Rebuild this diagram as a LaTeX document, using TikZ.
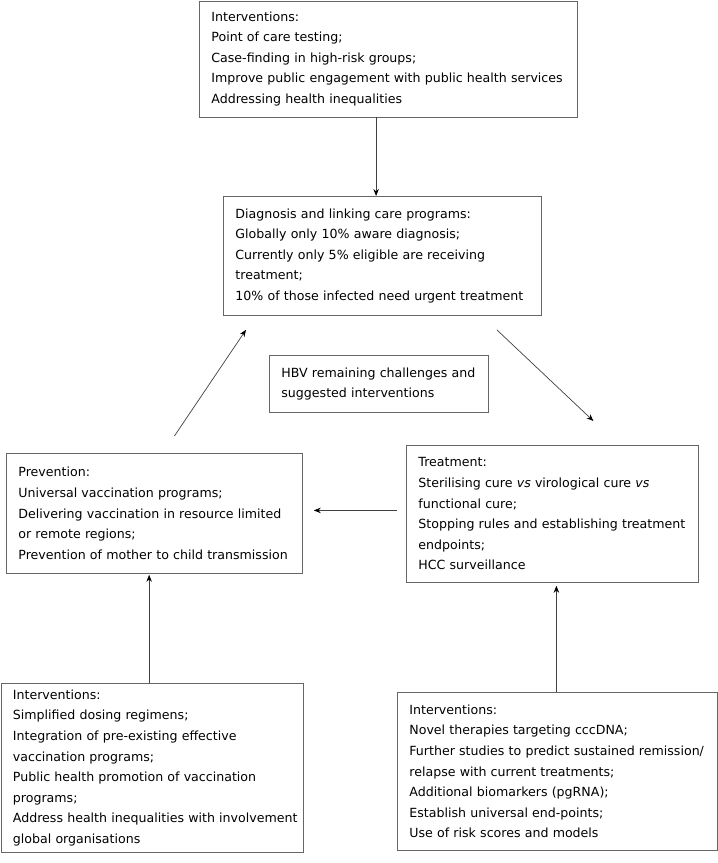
\documentclass[tikz,border=0pt]{standalone}
\usepackage{fontspec}
\setmainfont{DejaVu Sans}
\usetikzlibrary{calc,arrows.meta}
\tikzset{
  box/.style={draw=black!60, line width=0.8pt, anchor=north west, align=left,
    inner xsep=4pt, inner ysep=0pt, execute at begin node={\leftskip=8pt},
    font=\fontsize{12.6}{20.6}\selectfont},
  link/.style={draw=black!75, line width=0.7pt, -{Stealth[length=7pt,width=5.5pt,black]}}
}

\begin{document}
\begin{tikzpicture}[x=1pt,y=-1pt]
		%%%%% START %%%%%
		\useasboundingbox (0,0) rectangle (718,863);
		
		\node[box, text width=370pt, minimum height=116pt] (topiv) at (199,0.5)
		{Interventions:\\Point of care testing;\\Case-finding in high-risk groups;\\Improve public engagement with public health services\\Addressing health inequalities};
		
		\node[box, text width=310pt, minimum height=119pt] (diag) at (223,196)
		{Diagnosis and linking care programs:\\Globally only 10\% aware diagnosis;\\Currently only 5\% eligible are receiving\\treatment;\\10\% of those infected need urgent treatment};
		
		\node[box, text width=211pt, minimum height=57pt] (hbv) at (269,355)
		{HBV remaining challenges and\\suggested interventions};
		
		\node[box, text width=288pt, minimum height=120pt] (prev) at (6,453)
		{Prevention:\\Universal vaccination programs;\\Delivering vaccination in resource limited\\or remote regions;\\Prevention of mother to child transmission};
		
		\node[box, text width=284pt, minimum height=137pt] (treat) at (406,445)
		{Treatment:\\Sterilising cure \textit{vs} virological cure \textit{vs}\\functional cure;\\Stopping rules and establishing treatment\\endpoints;\\HCC surveillance};
		
		\node[box, text width=294.5pt, minimum height=169pt] (previv) at (0.5,683)
		{Interventions:\\Simplified dosing regimens;\\Integration of pre-existing effective\\vaccination programs;\\Public health promotion of vaccination\\programs;\\Address health inequalities with involvement\\global organisations};
		
		\node[box, text width=312pt, minimum height=158pt] (treativ) at (397,692)
		{Interventions:\\Novel therapies targeting cccDNA;\\Further studies to predict sustained remission/\\relapse with current treatments;\\Additional biomarkers (pgRNA);\\Establish universal end-points;\\Use of risk scores and models};
		
		% cycle
		\draw[link] ($(topiv.south)+(-12.3,0)$) -- ($(topiv.south |- diag.north)+(-12.3,0)$);
		\draw[link] ($(prev.north)+(20,-17)$) -- ($(diag.south west)+(23,14)$);
		\draw[link] ($(diag.south east)+(-45,14)$) -- ($(treat.north)+(41,-24)$);
		\draw[link] ($(treat.west)+(-9,-3.5)$) -- ($(prev.east)+(11,-3)$);
		
		\draw[link] ($(previv.north)+(-3,0)$) -- ($(previv.north |- prev.south)+(-3,1)$);
		\draw[link] ($(treativ.north)+(-1,0)$) -- ($(treativ.north |- treat.south)+(-1,3)$);
		
		%%%%% END %%%%%
	\end{tikzpicture}
\end{document}
